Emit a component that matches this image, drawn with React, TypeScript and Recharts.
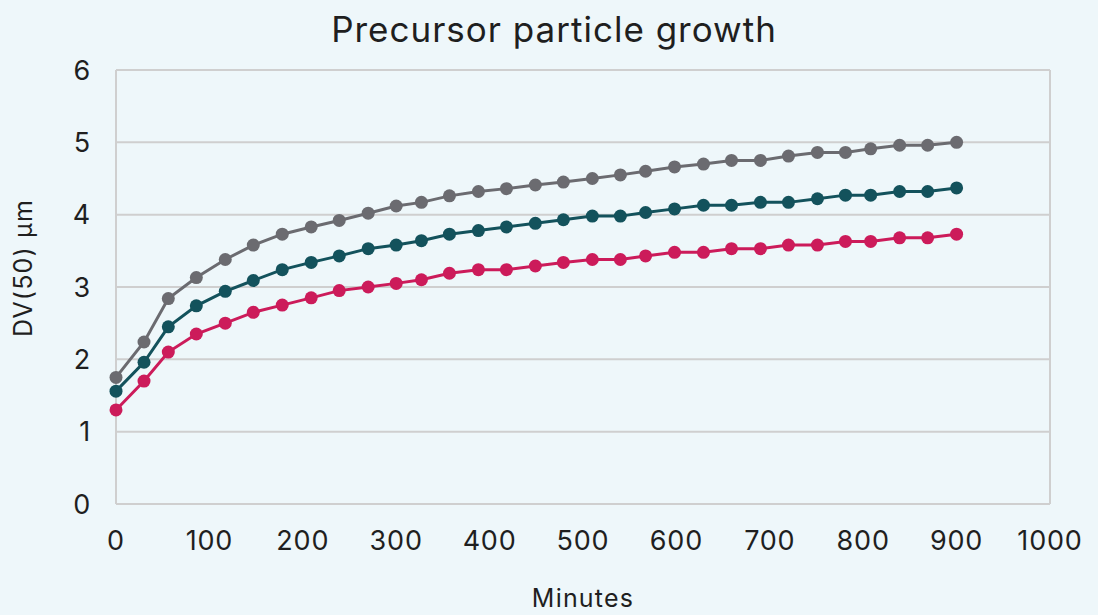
import React from 'react';
import { LineChart, Line, XAxis, YAxis, CartesianGrid, ReferenceLine } from 'recharts';

const minutes = [0, 30, 56, 86, 117, 147, 178, 209, 239, 270, 300, 327, 357, 388, 418, 449, 479, 510, 540, 567, 598, 629, 659, 690, 720, 751, 781, 808, 839, 869, 900];
const grayValues = [1.75, 2.24, 2.84, 3.13, 3.38, 3.58, 3.73, 3.83, 3.92, 4.02, 4.12, 4.17, 4.26, 4.32, 4.36, 4.41, 4.45, 4.5, 4.55, 4.6, 4.66, 4.7, 4.75, 4.75, 4.81, 4.86, 4.86, 4.91, 4.96, 4.96, 5.0];
const tealValues = [1.56, 1.96, 2.45, 2.74, 2.94, 3.09, 3.24, 3.34, 3.43, 3.53, 3.58, 3.64, 3.73, 3.78, 3.83, 3.88, 3.93, 3.98, 3.98, 4.03, 4.08, 4.13, 4.13, 4.17, 4.17, 4.22, 4.27, 4.27, 4.32, 4.32, 4.37];
const pinkValues = [1.3, 1.7, 2.1, 2.35, 2.5, 2.65, 2.75, 2.85, 2.95, 3.0, 3.05, 3.1, 3.19, 3.24, 3.24, 3.29, 3.34, 3.38, 3.38, 3.43, 3.48, 3.48, 3.53, 3.53, 3.58, 3.58, 3.63, 3.63, 3.68, 3.68, 3.73];
const xTicks = [0, 100, 200, 300, 400, 500, 600, 700, 800, 900, 1000];
const yTicks = [0, 1, 2, 3, 4, 5, 6];

const data = minutes.map((m, i) => ({ m, gray: grayValues[i], teal: tealValues[i], pink: pinkValues[i] }));

const FONT = 'Inter, "Noto Sans", sans-serif';
const TEXT = '#1f1f1f';

export default function App() {
  return (
    <div style={{ position: 'fixed', left: 0, top: 0, width: 1098, height: 615, background: '#eef7fa', fontFamily: FONT }}>
      <div style={{ position: 'absolute', left: 0, top: 7, width: 1108, textAlign: 'center', fontSize: 35, letterSpacing: 1, color: TEXT, lineHeight: '44px' }}>
        Precursor particle growth
      </div>
      <LineChart width={1098} height={615} data={data} margin={{ top: 70, right: 48, bottom: 0, left: 0 }}>
        <CartesianGrid horizontal vertical={false} stroke="#cfcfcf" strokeWidth={2} />
        <ReferenceLine x={0} stroke="#cfcfcf" strokeWidth={2} />
        <ReferenceLine x={1000} stroke="#cfcfcf" strokeWidth={2} />
        <XAxis
          dataKey="m"
          type="number"
          domain={[0, 1000]}
          ticks={xTicks}
          axisLine={false}
          tickLine={false}
          tickSize={0}
          tickMargin={27}
          height={111}
          tick={{ fill: TEXT, fontSize: 27, letterSpacing: 0.8, fontFamily: FONT }}
          label={{ value: 'Minutes', position: 'insideBottom', offset: 8, fill: TEXT, fontSize: 25, letterSpacing: 1.2, fontFamily: FONT }}
          interval={0}
        />
        <YAxis
          type="number"
          domain={[0, 6]}
          ticks={yTicks}
          axisLine={false}
          tickLine={false}
          tickSize={0}
          tickMargin={25}
          width={116}
          tick={{ fill: TEXT, fontSize: 27, letterSpacing: 0.8, fontFamily: FONT }}
          label={{
            content: () => (
              <text x={23} y={268} transform="rotate(-90, 23, 268)" textAnchor="middle" dominantBaseline="central" fill={TEXT} fontSize={25} letterSpacing={1.2} fontFamily={FONT}>
                DV(50) μm
              </text>
            ),
          }}
        />
        <Line type="linear" dataKey="gray" stroke="#6b6b70" strokeWidth={3} dot={{ r: 6.5, fill: '#6b6b70', stroke: '#6b6b70', strokeWidth: 0 }} isAnimationActive={false} />
        <Line type="linear" dataKey="teal" stroke="#13525c" strokeWidth={3} dot={{ r: 6.5, fill: '#13525c', stroke: '#13525c', strokeWidth: 0 }} isAnimationActive={false} />
        <Line type="linear" dataKey="pink" stroke="#cc1b5a" strokeWidth={3} dot={{ r: 6.5, fill: '#cc1b5a', stroke: '#cc1b5a', strokeWidth: 0 }} isAnimationActive={false} />
      </LineChart>
    </div>
  );
}
